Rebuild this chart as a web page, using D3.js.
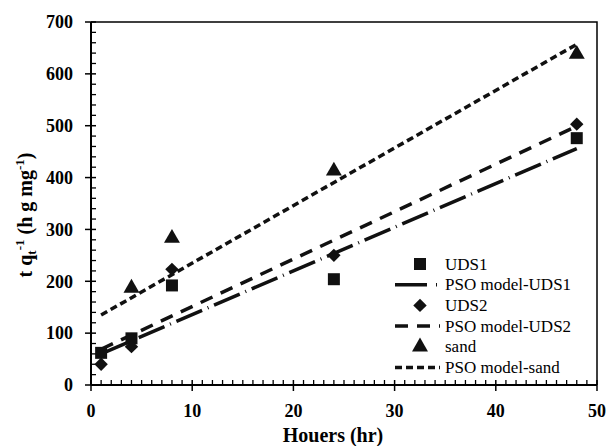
<!DOCTYPE html>
<html>
<head>
<meta charset="utf-8">
<script src="https://cdn.jsdelivr.net/npm/d3@7/dist/d3.min.js"></script>
<style>
  body { margin: 0; background: #fff; }
  svg { display: block; font-family: "Liberation Serif", "Times New Roman", serif; }
</style>
</head>
<body>
<div id="chart"></div>
<script>
// Data.
const hours = [1, 4, 8, 24, 48];
const uds1 = [62, 90, 192, 204, 476];
const uds2 = [40, 74, 223, 250, 503];
const sandHours = [4, 8, 24, 48];
const sand = [187, 283, 413, 638];

// PSO model lines (start and end values).
const modelHours = [1, 48];
const modelUds1 = [60, 456];
const modelUds2 = [69, 499];
const modelSand = [135, 657];

const xTicks = [0, 10, 20, 30, 40, 50];
const yTicks = [0, 100, 200, 300, 400, 500, 600, 700];

const W = 608, H = 446;
const margin = {top: 22, right: 11, bottom: 61, left: 91};
const width = W - margin.left - margin.right;
const height = H - margin.top - margin.bottom;

const svg = d3.select("#chart").append("svg")
    .attr("width", W)
    .attr("height", H);

const g = svg.append("g")
    .attr("transform", `translate(${margin.left},${margin.top})`);

const x = d3.scaleLinear().domain([0, 50]).range([0, width]);
const y = d3.scaleLinear().domain([0, 700]).range([height, 0]);

// Frame (top and right).
g.append("path")
  .attr("d", `M0,0H${width}V${height}`)
  .attr("fill", "none")
  .attr("stroke", "#000")
  .attr("stroke-width", 1.5);

// Minor ticks, inside.
const minorX = d3.range(0, 51, 1).filter(d => d % 10 !== 0);
const minorY = d3.range(0, 701, 20).filter(d => d % 100 !== 0);

g.selectAll(".mx").data(minorX).join("line")
  .attr("x1", d => x(d)).attr("x2", d => x(d))
  .attr("y1", height).attr("y2", height - 5)
  .attr("stroke", "#000").attr("stroke-width", 1.3);

g.selectAll(".my").data(minorY).join("line")
  .attr("x1", 0).attr("x2", 5)
  .attr("y1", d => y(d)).attr("y2", d => y(d))
  .attr("stroke", "#000").attr("stroke-width", 1.3);

// Major ticks, crossing.
g.selectAll(".tx").data(xTicks).join("line")
  .attr("x1", d => x(d)).attr("x2", d => x(d))
  .attr("y1", height - 5).attr("y2", height + 6)
  .attr("stroke", "#000").attr("stroke-width", 1.5);

g.selectAll(".ty").data(yTicks).join("line")
  .attr("x1", -6).attr("x2", 5)
  .attr("y1", d => y(d)).attr("y2", d => y(d))
  .attr("stroke", "#000").attr("stroke-width", 1.5);

// Axis lines.
g.append("line")
  .attr("x1", 0).attr("x2", width)
  .attr("y1", height).attr("y2", height)
  .attr("stroke", "#000").attr("stroke-width", 2);
g.append("line")
  .attr("x1", 0).attr("x2", 0)
  .attr("y1", 0).attr("y2", height)
  .attr("stroke", "#000").attr("stroke-width", 2);

// Tick labels.
g.selectAll(".lx").data(xTicks).join("text")
  .attr("x", d => x(d))
  .attr("y", height + 32)
  .attr("text-anchor", "middle")
  .attr("font-size", 18)
  .attr("font-weight", "bold")
  .text(d => d);

g.selectAll(".ly").data(yTicks).join("text")
  .attr("x", -18)
  .attr("y", d => y(d))
  .attr("dy", "0.35em")
  .attr("text-anchor", "end")
  .attr("font-size", 18)
  .attr("font-weight", "bold")
  .text(d => d);

// Axis titles.
svg.append("text")
  .attr("x", 333)
  .attr("y", 442)
  .attr("text-anchor", "middle")
  .attr("font-size", 20)
  .attr("font-weight", "bold")
  .text("Houers (hr)");

const yTitle = svg.append("text")
  .attr("transform", "translate(32,215) rotate(-90)")
  .attr("text-anchor", "middle")
  .attr("font-size", 20)
  .attr("font-weight", "bold");
yTitle.append("tspan").text("t q");
yTitle.append("tspan").attr("font-size", 13).attr("dy", 4).text("t");
yTitle.append("tspan").attr("font-size", 13).attr("dy", -12).text("-1");
yTitle.append("tspan").attr("dy", 8).text(" (h g mg");
yTitle.append("tspan").attr("font-size", 13).attr("dy", -8).text("-1");
yTitle.append("tspan").attr("dy", 8).text(")");

// Model lines.
const line = d3.line().x(d => x(d[0])).y(d => y(d[1]));
const models = [
  {vals: modelUds1, dash: "28,6,1,6"},
  {vals: modelUds2, dash: "13,9"},
  {vals: modelSand, dash: "7,4"}
];
models.forEach(m => {
  g.append("path")
    .datum(modelHours.map((h, i) => [h, m.vals[i]]))
    .attr("d", line)
    .attr("fill", "none")
    .attr("stroke", "#111")
    .attr("stroke-width", 3.5)
    .attr("stroke-dasharray", m.dash);
});

// Markers.
const square = d3.symbol().type(d3.symbolSquare).size(144);
const diamond = d3.symbol().type(d3.symbolSquare).size(90);
const triangle = d3.symbol().type(d3.symbolTriangle).size(110);

g.selectAll(".s1").data(hours.map((h, i) => [h, uds1[i]])).join("path")
  .attr("d", square)
  .attr("transform", d => `translate(${x(d[0])},${y(d[1])})`)
  .attr("fill", "#111");

g.selectAll(".s2").data(hours.map((h, i) => [h, uds2[i]])).join("path")
  .attr("d", diamond)
  .attr("transform", d => `translate(${x(d[0])},${y(d[1])}) rotate(45)`)
  .attr("fill", "#111");

g.selectAll(".s3").data(sandHours.map((h, i) => [h, sand[i]])).join("path")
  .attr("d", triangle)
  .attr("transform", d => `translate(${x(d[0])},${y(d[1])})`)
  .attr("fill", "#111");

// Legend.
const legend = svg.append("g");
const rows = [
  {label: "UDS1", sym: square, rot: 0},
  {label: "PSO model-UDS1", dash: "32,9,1,9", x2: 441},
  {label: "UDS2", sym: diamond, rot: 45},
  {label: "PSO model-UDS2", dash: "13,9", x2: 440},
  {label: "sand", sym: triangle, rot: 0},
  {label: "PSO model-sand", dash: "7,4", x2: 440}
];
rows.forEach((r, i) => {
  const ry = 264 + i * 20.7;
  if (r.sym) {
    legend.append("path")
      .attr("d", r.sym)
      .attr("transform", `translate(420,${ry}) rotate(${r.rot})`)
      .attr("fill", "#111");
  } else {
    legend.append("line")
      .attr("x1", 395).attr("x2", r.x2)
      .attr("y1", ry).attr("y2", ry)
      .attr("stroke", "#111")
      .attr("stroke-width", 3.5)
      .attr("stroke-dasharray", r.dash);
  }
  legend.append("text")
    .attr("x", 445)
    .attr("y", ry)
    .attr("dy", "0.33em")
    .attr("font-size", 17)
    .text(r.label);
});
</script>
</body>
</html>
